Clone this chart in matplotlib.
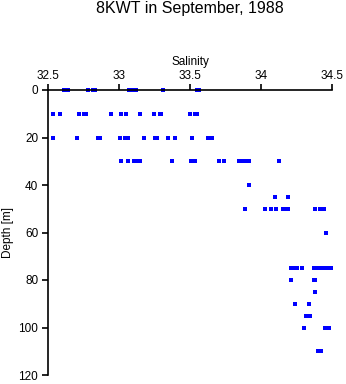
import matplotlib
matplotlib.use("Agg")
import matplotlib.pyplot as plt

plt.rcParams['font.family'] = ['Liberation Sans', 'DejaVu Sans']

# Salinity samples per depth level (m)
depth_levels = [0, 10, 20, 30, 40, 45, 50, 60, 75, 80, 85, 90, 95, 100, 110]
salinity_by_level = [
    [32.61, 32.625, 32.64, 32.78, 32.82, 32.83, 33.07, 33.09, 33.12, 33.31, 33.55, 33.565],
    [32.537, 32.587, 32.716, 32.754, 32.765, 32.946, 33.016, 33.047, 33.15, 33.249,
     33.289, 33.298, 33.50, 33.535, 33.55],
    [32.537, 32.706, 32.852, 32.866, 33.009, 33.042, 33.063, 33.178, 33.254, 33.268,
     33.347, 33.396, 33.516, 33.627, 33.655],
    [33.014, 33.063, 33.106, 33.127, 33.148, 33.373, 33.507, 33.535, 33.704, 33.739,
     33.842, 33.87, 33.884, 33.912, 34.127],
    [33.918],
    [34.10, 34.188],
    [33.89, 34.03, 34.068, 34.108, 34.153, 34.17, 34.19, 34.38, 34.415, 34.445],
    [34.46],
    [34.21, 34.23, 34.25, 34.29, 34.37, 34.39, 34.41, 34.43, 34.45, 34.47, 34.49],
    [34.21, 34.37, 34.38],
    [34.38],
    [34.24, 34.34],
    [34.32, 34.345],
    [34.305, 34.45, 34.48],
    [34.40, 34.42],
]
x_ticks = [32.5, 33, 33.5, 34, 34.5]
x_tick_labels = ["32.5", "33", "33.5", "34", "34.5"]
y_ticks = [0, 20, 40, 60, 80, 100, 120]

depth = []
salinity = []
for d, vals in zip(depth_levels, salinity_by_level):
    for v in vals:
        depth.append(d)
        salinity.append(v)

W, H = 346, 384
fig = plt.figure(figsize=(W / 100, H / 100), dpi=100)
ax = fig.add_axes([48 / W, 1 - 375 / H, (332 - 48) / W, (375 - 90) / H])

ax.plot(salinity, depth, linestyle='none', marker='s', markersize=2.2,
        markeredgewidth=0, color='#0000ff', clip_on=False)

ax.set_xlim(32.5, 34.5)
ax.set_ylim(120, 0)
ax.xaxis.set_ticks_position('top')
ax.xaxis.set_label_position('top')
ax.set_xticks(x_ticks)
ax.set_xticklabels(x_tick_labels)
ax.set_yticks(y_ticks)
for s in ['right', 'bottom']:
    ax.spines[s].set_visible(False)
for s in ['top', 'left']:
    ax.spines[s].set_linewidth(1.2)
ax.tick_params(axis='both', direction='out', length=4, width=1.2, labelsize=8.5)
ax.tick_params(axis='x', pad=1.5)
ax.tick_params(axis='y', pad=3)
ax.set_xlabel('Salinity', fontsize=8.5, labelpad=4)

fig.text(2 / W, 1 - 232.5 / H, 'Depth [m]', rotation=90, ha='left', va='center',
         fontsize=8.5)
fig.text(190 / W, 1 - 9 / H, '8KWT in September, 1988', ha='center', va='center',
         fontsize=11.5)

fig.savefig('out.png', dpi=100)
